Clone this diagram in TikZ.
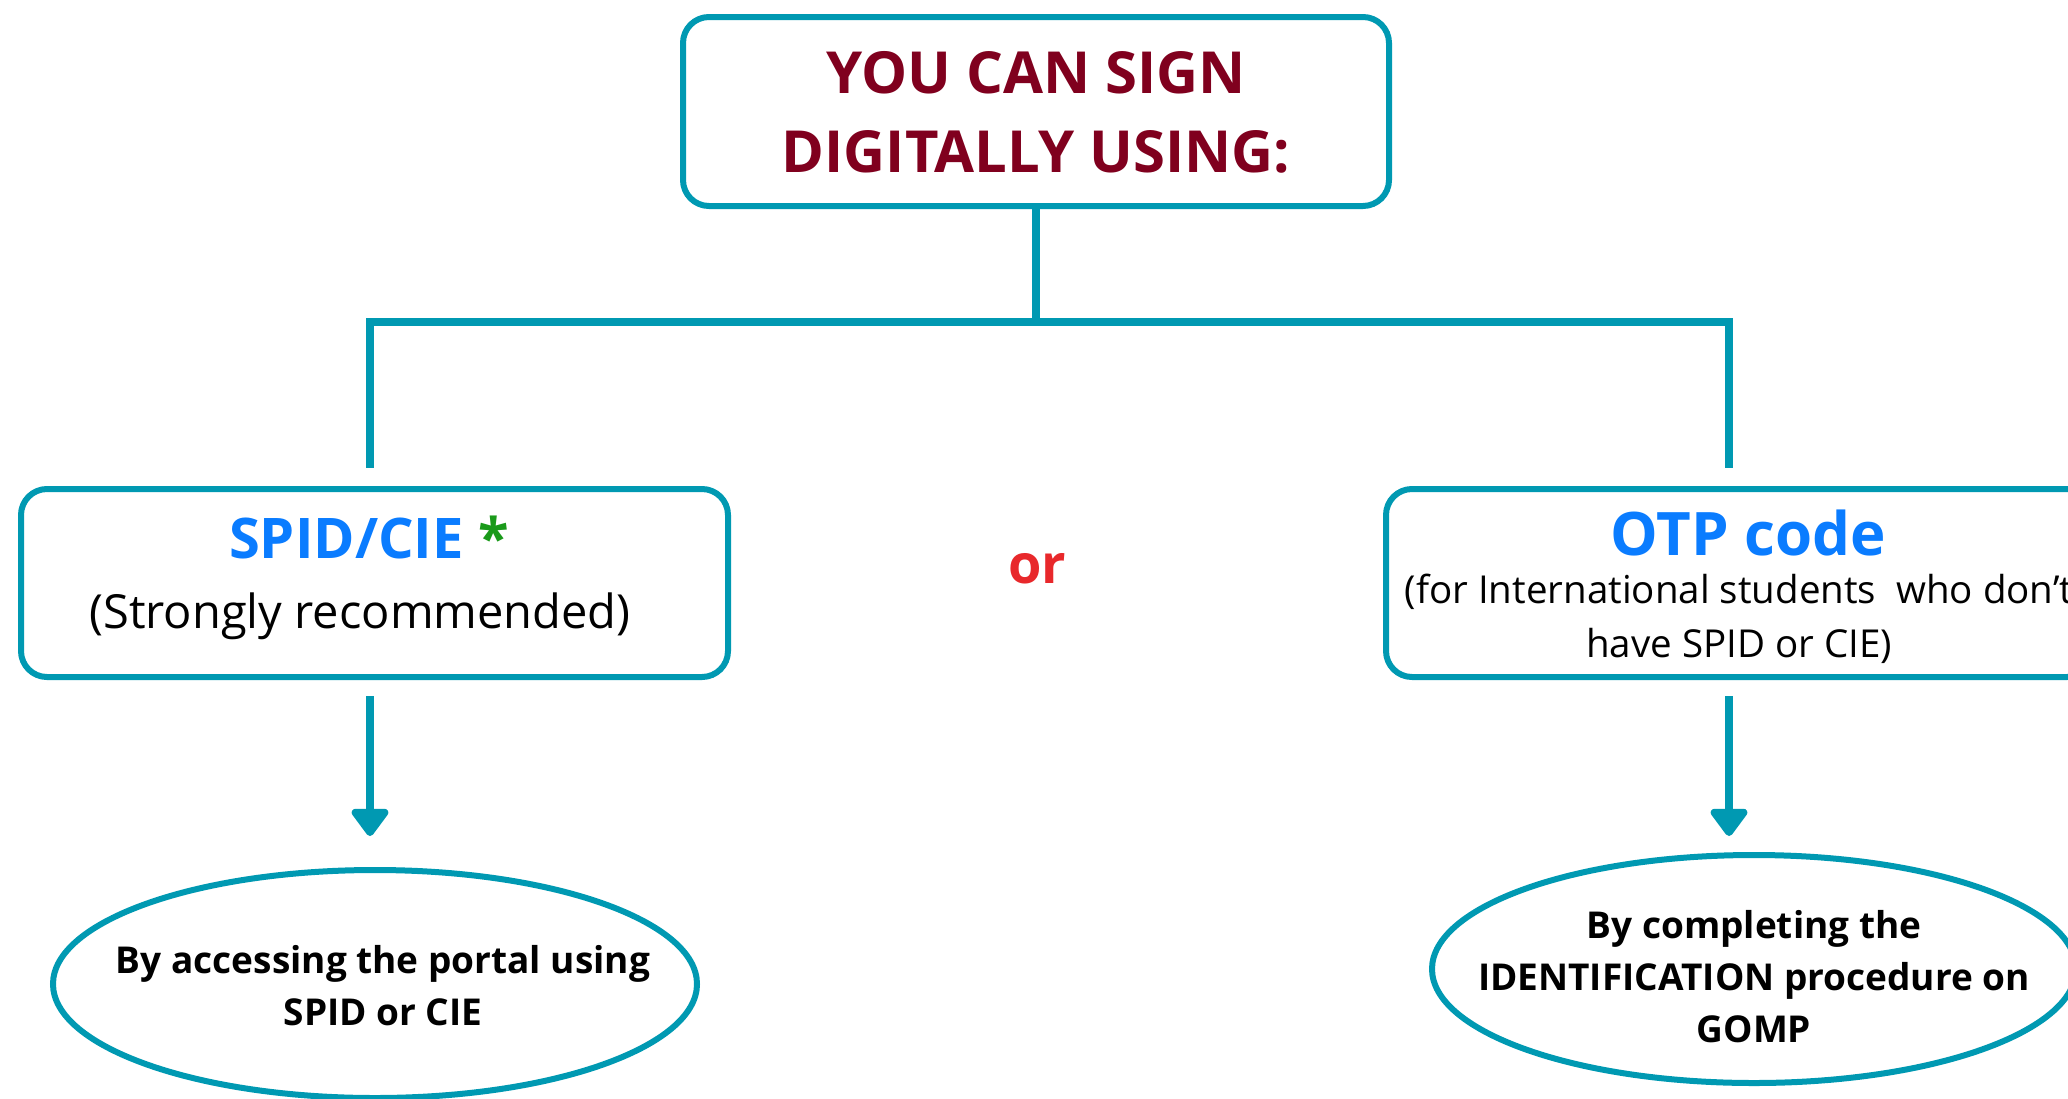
\documentclass[tikz,border=0pt]{standalone}
\usepackage{fontspec}
\setmainfont{Open Sans}
\usetikzlibrary{arrows.meta,shapes.geometric}
\definecolor{teal}{RGB}{0,153,178}
\definecolor{titlered}{RGB}{128,0,30}
\definecolor{brightblue}{RGB}{10,124,255}
\definecolor{stargreen}{RGB}{26,154,26}
\definecolor{orred}{RGB}{232,40,43}
\tikzset{
  frame/.style={draw=teal, line width=6pt, rounded corners=26pt, fill=white, inner sep=0pt, minimum width=707pt, minimum height=188pt},
  oval/.style={draw=teal, line width=6pt, ellipse, fill=white, inner sep=0pt, minimum width=644pt, minimum height=228pt},
  link/.style={draw=teal, line width=8pt},
  arrowlink/.style={link, -{Triangle[width=42pt,length=30pt,round]}},
  titletext/.style={font=\fontsize{58}{79}\selectfont\bfseries, text=titlered, align=center},
  headtext/.style={font=\fontsize{56}{66}\selectfont\bfseries, text=brightblue},
  subtext/.style={font=\fontsize{47}{54}\selectfont, align=center},
  smalltext/.style={font=\fontsize{38.5}{54}\selectfont, align=center},
  ovaltext/.style={font=\fontsize{37}{52}\selectfont\bfseries, align=center},
}
\begin{document}
\begin{tikzpicture}[x=1pt,y=-1pt]
\useasboundingbox (0,0) rectangle (2068,1098);
% top box
\node[frame, minimum width=706pt, minimum height=189pt] (top) at (1036,111.5) {};
\node[titletext] (toptxt) at (1036,112) {YOU CAN SIGN\\DIGITALLY USING:};
% junction coordinates
\coordinate (jc) at (1036,322);
\coordinate (jl) at (370,322);
\coordinate (jr) at (1729,322);
\coordinate (dl) at (370,468);
\coordinate (dr) at (1729,468);
\draw[link] (top.south) -- (jc);
\draw[link, line cap=rect] (jl) -- (jr);
\draw[link] (jl) -- (dl);
\draw[link] (jr) -- (dr);
% left box
\node[frame] (spid) at (374.5,583) {};
\node[headtext] (spidt) at (369,537) {SPID/CIE \textcolor{stargreen}{*}};
\node[subtext] (spids) at (360,616) {(Strongly recommended)};
% or
\node[font=\fontsize{54}{60}\selectfont\bfseries, text=orred] (or) at (1037,569) {or};
% right box
\node[frame] (otp) at (1739.5,583) {};
\node[headtext, font=\fontsize{60}{66}\selectfont\bfseries] (otpt) at (1748,533) {OTP code};
\node[smalltext] (otps) at (1739,619) {(for International students\ \ who don’t\\have SPID or CIE)};
% arrows
\coordinate (al) at (370,696);
\coordinate (ar) at (1729,696);
\coordinate (bl) at (370,836);
\coordinate (br) at (1729,836);
\draw[arrowlink] (al) -- (bl);
\draw[arrowlink] (ar) -- (br);
% ellipses
\node[oval] (ovl) at (375,984) {};
\node[ovaltext] (ovlt) at (383,986) {By accessing the portal using\\SPID or CIE};
\node[oval] (ovr) at (1754,969) {};
\node[ovaltext] (ovrt) at (1754,977) {By completing the\\IDENTIFICATION procedure on\\GOMP};
\end{tikzpicture}
\end{document}
